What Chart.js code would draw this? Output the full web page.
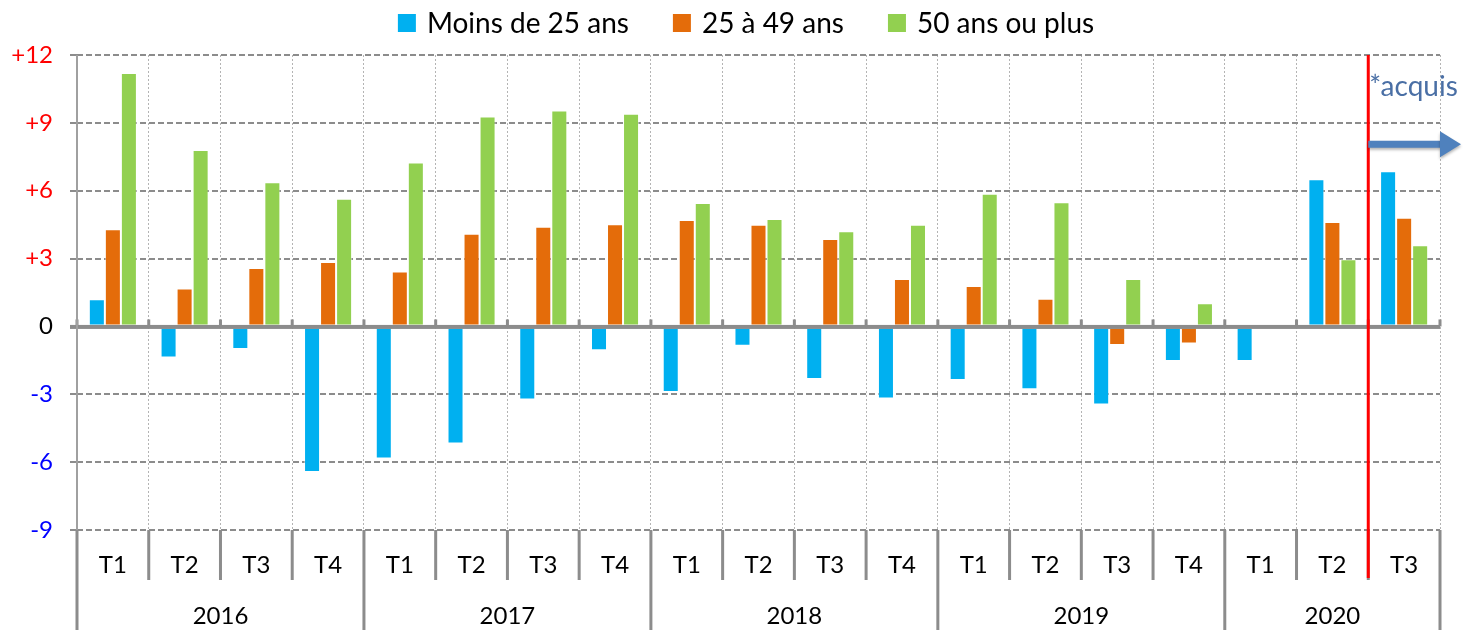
<!DOCTYPE html>
<html>
<head>
<meta charset="utf-8">
<script src="https://cdn.jsdelivr.net/npm/chart.js@4/dist/chart.umd.min.js"></script>
<style>
  html, body { margin: 0; padding: 0; background: #fff; }
  #wrap { width: 1468px; height: 630px; }
</style>
</head>
<body>
<div id="wrap"><canvas id="chart" width="1468" height="630"></canvas></div>
<script>
// Data
const quarters = ["T1", "T2", "T3", "T4", "T1", "T2", "T3", "T4", "T1", "T2", "T3", "T4",
                  "T1", "T2", "T3", "T4", "T1", "T2", "T3"];
const years = ["2016", "2017", "2018", "2019", "2020"];
const yearSpans = [4, 4, 4, 4, 3];

const seriesNames = ["Moins de 25 ans", "25 à 49 ans", "50 ans ou plus"];
const moins25 = [1.2, -1.37, -1.0, -6.44, -5.84, -5.18, -3.23, -1.05, -2.9, -0.85, -2.32, -3.19,
                 -2.37, -2.78, -3.45, -1.53, -1.53, 6.51, 6.86];
const de25a49 = [4.3, 1.68, 2.58, 2.85, 2.43, 4.1, 4.41, 4.52, 4.71, 4.49, 3.87, 2.1,
                 1.79, 1.22, -0.82, -0.75, null, 4.62, 4.81];
const plus50 = [11.2, 7.8, 6.37, 5.65, 7.25, 9.28, 9.55, 9.4, 5.46, 4.75, 4.21, 4.49,
                5.87, 5.49, 2.1, 1.03, null, 2.97, 3.59];

const yTicks = [-9, -6, -3, 0, 3, 6, 9, 12];
const acquisLabel = "*acquis";

const colors = ["#00b0f0", "#e46c0a", "#92d050"];
const FONT = "Lato, 'Open Sans', sans-serif";
const lineGrey = "#8c8c8c";

// x pixel of the boundary between category i-1 and i
function boundaryX(x, i) {
  if (i <= 0) return x.left;
  if (i >= quarters.length) return x.right;
  return (x.getPixelForValue(i - 1) + x.getPixelForValue(i)) / 2;
}

// Custom drawing: legend, zero line, category table, red line, arrow
const decorations = {
  id: "decorations",
  afterDatasetsDraw(chart) {
    const { ctx, chartArea, scales: { x, y } } = chart;
    const y0 = y.getPixelForValue(0);
    ctx.save();

    // zero line with small ticks
    ctx.fillStyle = lineGrey;
    ctx.fillRect(chartArea.left - 7, y0 - 1.5, chartArea.right - chartArea.left + 7, 4);
    for (let i = 0; i <= quarters.length; i++) {
      const bx = boundaryX(x, i);
      ctx.fillRect(bx - 1.5, y0 - 7, 3, 7);
    }

    // left axis line
    ctx.fillStyle = "#a0a0a0";
    ctx.fillRect(chartArea.left - 1, chartArea.top, 2, chartArea.bottom - chartArea.top);

    // category table lines
    ctx.fillStyle = lineGrey;
    const yearStarts = [0];
    yearSpans.forEach(s => yearStarts.push(yearStarts[yearStarts.length - 1] + s));
    for (let i = 0; i <= quarters.length; i++) {
      const bx = boundaryX(x, i);
      const isYear = yearStarts.includes(i);
      ctx.fillRect(bx - 1.5, chartArea.bottom, 3, isYear ? 100 : 50);
    }

    // year labels
    ctx.fillStyle = "#000";
    ctx.font = "24px " + FONT;
    ctx.textAlign = "center";
    ctx.textBaseline = "middle";
    years.forEach((yr, k) => {
      const cx = (boundaryX(x, yearStarts[k]) + boundaryX(x, yearStarts[k + 1])) / 2;
      ctx.fillText(yr, cx, chartArea.bottom + 86);
    });

    // red separator before the last quarter
    const rx = boundaryX(x, quarters.length - 1);
    ctx.fillStyle = "#ff0000";
    ctx.fillRect(rx - 1.5, chartArea.top, 3, chartArea.bottom + 48 - chartArea.top);

    // *acquis + arrow
    ctx.fillStyle = "#4a6fa5";
    ctx.font = "28px " + FONT;
    ctx.textAlign = "left";
    ctx.textBaseline = "alphabetic";
    ctx.fillText(acquisLabel, rx + 1, y.getPixelForValue(10.2));

    const ay = y.getPixelForValue(8.05);
    ctx.shadowColor = "rgba(0,0,0,0.3)";
    ctx.shadowBlur = 3;
    ctx.shadowOffsetY = 2;
    ctx.strokeStyle = "#4f81bd";
    ctx.fillStyle = "#4f81bd";
    ctx.lineWidth = 7;
    ctx.beginPath();
    ctx.moveTo(rx, ay);
    ctx.lineTo(chartArea.right + 2, ay);
    ctx.stroke();
    ctx.beginPath();
    ctx.moveTo(chartArea.right, ay - 13);
    ctx.lineTo(chartArea.right + 21, ay);
    ctx.lineTo(chartArea.right, ay + 13);
    ctx.closePath();
    ctx.fill();
    ctx.restore();

    // legend
    ctx.save();
    ctx.font = "28px " + FONT;
    ctx.textBaseline = "middle";
    ctx.textAlign = "left";
    const box = 18, gapText = 11, gapItem = 44;
    const widths = seriesNames.map(n => box + gapText + ctx.measureText(n).width);
    const total = widths.reduce((a, b) => a + b, 0) + gapItem * (widths.length - 1);
    let lx = chart.width / 2 + 12 - total / 2;
    seriesNames.forEach((n, i) => {
      ctx.fillStyle = colors[i];
      ctx.fillRect(lx, 14, box, box);
      ctx.fillStyle = "#000";
      ctx.fillText(n, lx + box + gapText, 24);
      lx += widths[i] + gapItem;
    });
    ctx.restore();
  }
};

const ctx = document.getElementById("chart").getContext("2d");

new Chart(ctx, {
  type: "bar",
  data: {
    labels: quarters,
    datasets: [
      { label: seriesNames[0], data: moins25, backgroundColor: colors[0] },
      { label: seriesNames[1], data: de25a49, backgroundColor: colors[1] },
      { label: seriesNames[2], data: plus50, backgroundColor: colors[2] }
    ]
  },
  options: {
    responsive: false,
    animation: false,
    layout: { padding: { top: 55, right: 28, left: 0, bottom: 0 } },
    datasets: {
      bar: {
        categoryPercentage: 0.67,
        barPercentage: 1,
        borderWidth: 1,
        borderColor: "rgba(255,255,255,0.45)",
        borderSkipped: false
      }
    },
    plugins: {
      legend: { display: false },
      tooltip: { enabled: false }
    },
    scales: {
      x: {
        afterFit: (scale) => { scale.height = 100; },
        grid: { color: "#b4b4b4", lineWidth: 1, drawTicks: false, offset: true },
        border: { display: false, dash: [2, 2] },
        ticks: {
          color: "#000",
          font: { family: FONT, size: 24 },
          padding: 21,
          maxRotation: 0,
          autoSkip: false
        }
      },
      y: {
        min: -9,
        max: 12,
        afterFit: (scale) => { scale.width = 77; },
        afterBuildTicks: (scale) => { scale.ticks = yTicks.map(v => ({ value: v })); },
        grid: {
          color: lineGrey,
          lineWidth: 2,
          tickLength: 7,
          tickColor: lineGrey,
          tickWidth: 2
        },
        border: { display: false, dash: [6, 3] },
        ticks: {
          font: { family: FONT, size: 24 },
          padding: 17,
          color: (c) => c.tick.value > 0 ? "#ff0000" : (c.tick.value < 0 ? "#0000ff" : "#000"),
          callback: (v) => v > 0 ? "+" + v : String(v)
        }
      }
    }
  },
  plugins: [decorations]
});
</script>
</body>
</html>
